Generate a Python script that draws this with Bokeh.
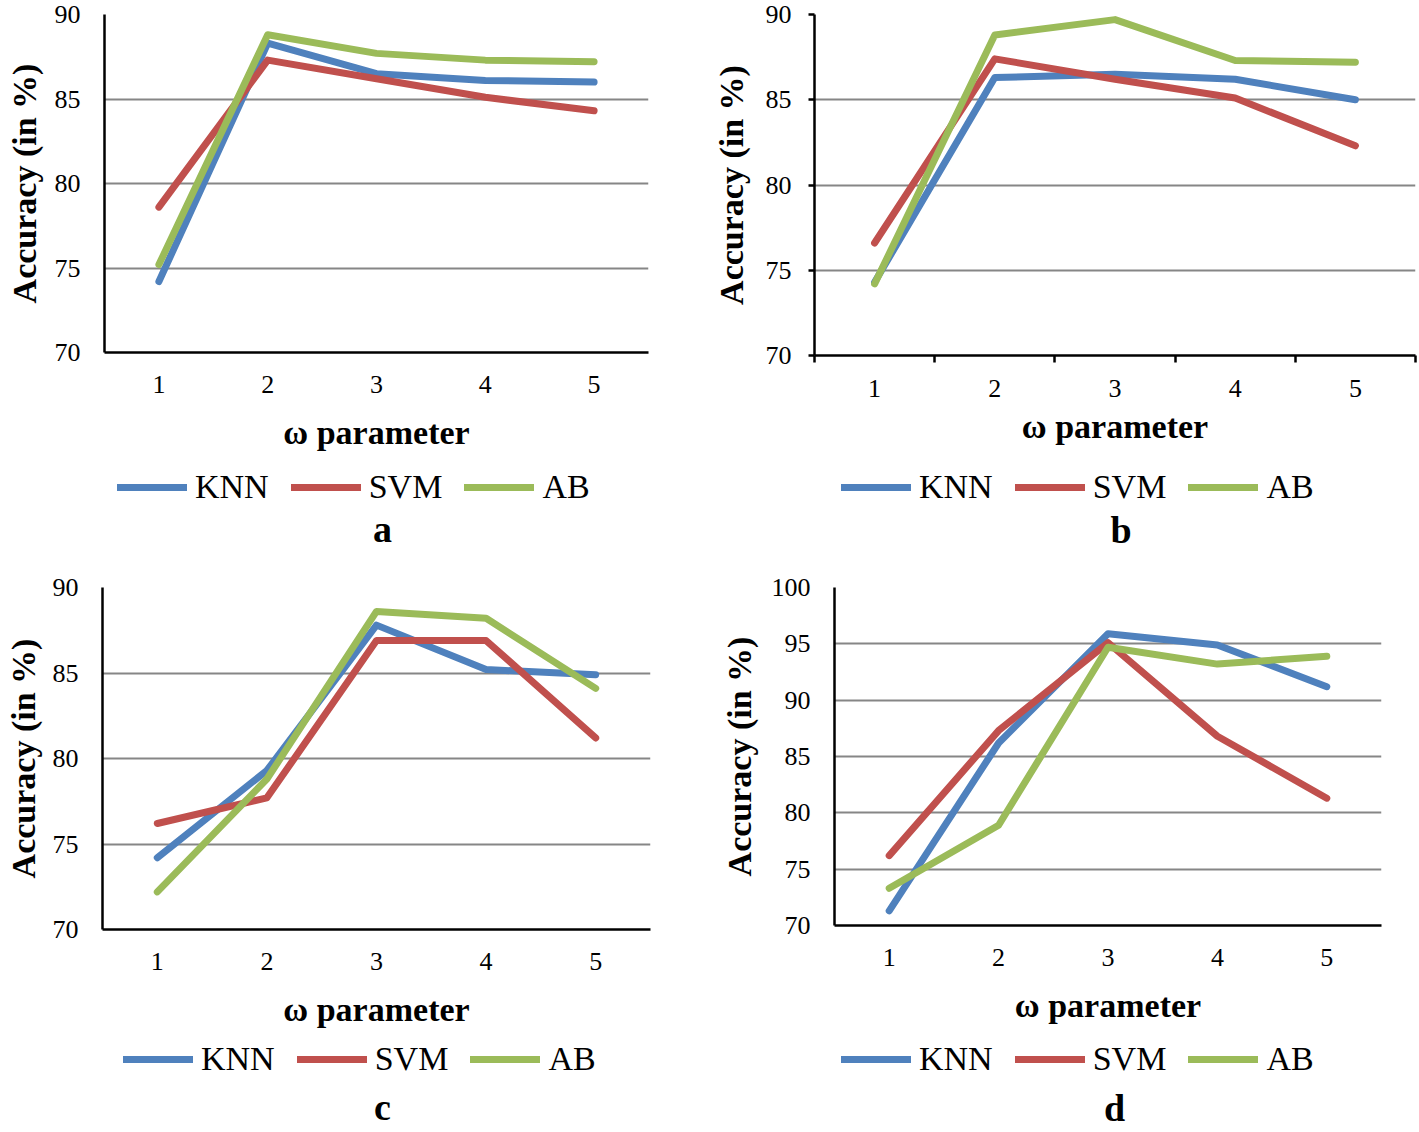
from bokeh.plotting import figure
from bokeh.models import Legend, LegendItem, Label, FixedTicker, Range1d
from bokeh.layouts import column, row
from bokeh.embed import file_html
from bokeh.resources import INLINE

# ---------------- data ----------------
omega = [1, 2, 3, 4, 5]
omega_labels = ["1", "2", "3", "4", "5"]
series_names = ["KNN", "SVM", "AB"]
series_colors = ["#4F81BD", "#C0504D", "#9BBB59"]

a_knn = [74.2, 88.3, 86.5, 86.1, 86.0]
a_svm = [78.6, 87.3, 86.2, 85.1, 84.3]
a_ab = [75.2, 88.8, 87.7, 87.3, 87.2]

b_knn = [74.3, 86.3, 86.5, 86.2, 85.0]
b_svm = [76.6, 87.4, 86.2, 85.1, 82.3]
b_ab = [74.2, 88.8, 89.7, 87.3, 87.2]

c_knn = [74.2, 79.3, 87.8, 85.2, 84.9]
c_svm = [76.2, 77.7, 86.9, 86.9, 81.2]
c_ab = [72.2, 78.8, 88.6, 88.2, 84.1]

d_knn = [71.3, 86.2, 95.9, 94.9, 91.2]
d_svm = [76.2, 87.3, 95.1, 86.8, 81.3]
d_ab = [73.3, 78.9, 94.7, 93.2, 93.9]

yticks_abc = [70, 75, 80, 85, 90]
yticks_d = [70, 75, 80, 85, 90, 95, 100]
panel_letters = ["a", "b", "c", "d"]

x_title = "ω parameter"
y_title = "Accuracy (in %)"

SERIF = "Liberation Serif"
LINE_W = 7


def make_main(series, yticks, W, H, bl, br, bt, bb, boundary_ticks=False,
              xstand=23, xals=18, ystand=24, yals=6):
    p = figure(width=W, height=H, output_backend="svg", toolbar_location=None,
               x_range=Range1d(0.5, 5.5), y_range=Range1d(yticks[0], yticks[-1]),
               min_border_left=bl, min_border_right=br, min_border_top=bt,
               min_border_bottom=bb)
    p.outline_line_color = None
    p.background_fill_color = "white"
    p.border_fill_color = "white"

    for vals, col in zip(series, series_colors):
        p.line(omega, vals, line_color=col, line_width=LINE_W,
               line_cap="round", line_join="round")

    xa = p.xaxis[0]
    if boundary_ticks:
        xa.ticker = FixedTicker(ticks=omega,
                                minor_ticks=[v - 0.5 for v in omega] + [omega[-1] + 0.5])
        xa.minor_tick_out = 7
        xa.minor_tick_in = 0
        xa.minor_tick_line_color = "black"
        xa.minor_tick_line_width = 2.5
    else:
        xa.ticker = FixedTicker(ticks=omega)
        xa.minor_tick_line_color = None
    xa.major_label_overrides = {v: s for v, s in zip(omega, omega_labels)}
    xa.major_tick_line_color = None
    xa.major_tick_out = 0
    xa.major_tick_in = 0
    xa.axis_line_color = "black"
    xa.axis_line_width = 2.5
    xa.major_label_text_font = SERIF
    xa.major_label_text_font_size = "26px"
    xa.major_label_text_color = "black"
    xa.major_label_standoff = xstand
    xa.axis_label = x_title
    xa.axis_label_text_font = SERIF
    xa.axis_label_text_font_size = "34px"
    xa.axis_label_text_font_style = "bold"
    xa.axis_label_text_color = "black"
    xa.axis_label_standoff = xals

    ya = p.yaxis[0]
    ya.ticker = FixedTicker(ticks=yticks)
    ya.minor_tick_line_color = None
    if boundary_ticks:
        ya.major_tick_out = 6
        ya.major_tick_in = 0
        ya.major_tick_line_color = "black"
        ya.major_tick_line_width = 2.5
    else:
        ya.major_tick_line_color = None
        ya.major_tick_out = 0
        ya.major_tick_in = 0
    ya.axis_line_color = "black"
    ya.axis_line_width = 2.5
    ya.major_label_text_font = SERIF
    ya.major_label_text_font_size = "26px"
    ya.major_label_text_color = "black"
    ya.major_label_standoff = ystand
    ya.axis_label = y_title
    ya.axis_label_text_font = SERIF
    ya.axis_label_text_font_size = "34px"
    ya.axis_label_text_font_style = "bold"
    ya.axis_label_text_color = "black"
    ya.axis_label_standoff = yals

    p.xgrid.grid_line_color = None
    p.ygrid.ticker = FixedTicker(ticks=yticks)
    p.ygrid.grid_line_color = "#868686"
    p.ygrid.grid_line_width = 2
    return p


def make_legend(series, letter, W, H, bl, br, leg_x, leg_top, let_x, let_c):
    """Legend strip + sub-figure letter under a panel.
    Frame spans the same columns as the panel's frame; 1 data unit = 1 px."""
    fw = W - bl - br
    q = figure(width=W, height=H, output_backend="svg", toolbar_location=None,
               x_range=Range1d(0, fw), y_range=Range1d(0, H),
               x_axis_location=None, y_axis_location=None,
               min_border_left=bl, min_border_right=br,
               min_border_top=0, min_border_bottom=0)
    q.outline_line_color = None
    q.background_fill_color = "white"
    q.border_fill_color = "white"
    q.xgrid.grid_line_color = None
    q.ygrid.grid_line_color = None
    # hidden series renderers: they only feed the legend swatches
    swatches = [q.line(omega, vals, line_color=c, line_width=LINE_W,
                       line_cap="round", visible=False)
                for vals, c in zip(series, series_colors)]
    item_h = 36
    legend = Legend(items=[LegendItem(label=n, renderers=[r])
                           for n, r in zip(series_names, swatches)],
                    orientation="horizontal",
                    location=(leg_x, H - leg_top - item_h),
                    margin=0, padding=0, spacing=22,
                    glyph_width=70, glyph_height=item_h, label_height=item_h,
                    label_standoff=8,
                    label_text_font=SERIF, label_text_font_size="34px",
                    label_text_color="black",
                    border_line_color=None, background_fill_alpha=0,
                    click_policy="none")
    q.add_layout(legend, "center")
    q.add_layout(Label(x=let_x, y=H - let_c, text=letter,
                       text_align="center", text_baseline="middle",
                       text_font=SERIF, text_font_size="38px",
                       text_font_style="bold", text_color="black"))
    return q


A = [a_knn, a_svm, a_ab]
B = [b_knn, b_svm, b_ab]
C = [c_knn, c_svm, c_ab]
D = [d_knn, d_svm, d_ab]

pa = make_main(A, yticks_abc, 709, 467, 104, 61, 14, 115, yals=9)
pb = make_main(B, yticks_abc, 708, 467, 102, 2, 14, 112,
               boundary_ticks=True, xstand=17, xals=8, ystand=17, yals=13)
pc = make_main(C, yticks_abc, 709, 480, 102, 59, 27, 111, yals=8)
pd = make_main(D, yticks_d, 708, 480, 125, 36, 27, 115, yals=11)

la = make_legend(A, panel_letters[0], 709, 93, 104, 61, 13, 3, 278, 61)
lb = make_legend(B, panel_letters[1], 708, 93, 102, 2, 27, 3, 308, 62)
lc = make_legend(C, panel_letters[2], 709, 90, 102, 59, 21, 2, 280, 66)
ld = make_legend(D, panel_letters[3], 708, 90, 125, 36, 7, 2, 280, 67)

layout = column(row(column(pa, la), column(pb, lb)),
                row(column(pc, lc), column(pd, ld)))

with open("out.html", "w") as f:
    f.write(file_html(layout, INLINE))
